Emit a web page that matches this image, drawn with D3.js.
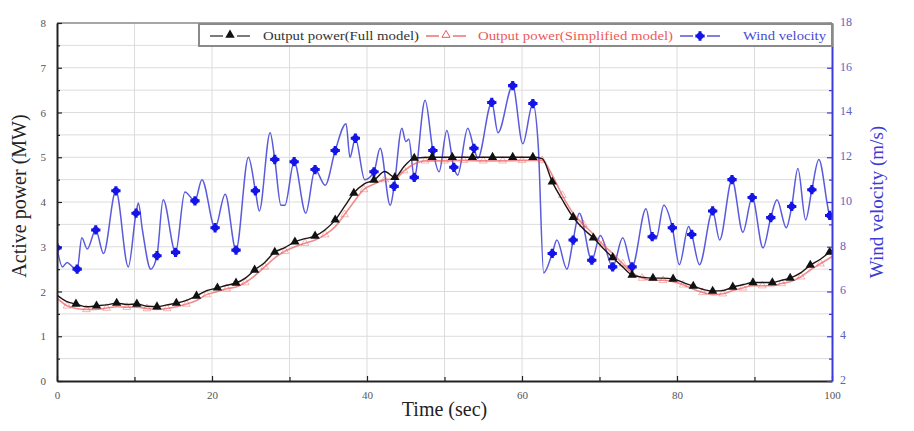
<!DOCTYPE html>
<html>
<head>
<meta charset="utf-8">
<script src="https://cdn.jsdelivr.net/npm/d3@7/dist/d3.min.js"></script>
<style>
  html, body { margin: 0; padding: 0; background: #fff; }
  svg { display: block; }
  text { font-family: "Liberation Serif", "DejaVu Serif", serif; }
</style>
</head>
<body>
<svg id="chart" width="914" height="431"></svg>
<script>
// ---------------- DATA ----------------
// Wind velocity curve (m/s), time in seconds
const windTime = [0, 0.7, 1.3, 2.0, 2.6, 3.2, 3.9, 5.0, 6.0, 7.6, 9.2, 10.2, 10.5, 11.0, 12.1, 12.9, 13.7, 15.3, 16.5, 17.8, 18.7, 20.4, 21.7, 23.1, 24.7, 25.6, 26.1, 27.5, 28.1, 28.9, 29.4, 30.6, 32.1, 33.3, 34.6, 35.9, 37.3, 37.8, 38.5, 39.7, 40.9, 41.7, 43.0, 43.5, 44.5, 45.0, 45.4, 46.1, 47.5, 48.5, 49.3, 50.3, 51.2, 51.7, 53.0, 53.8, 54.3, 56.1, 56.9, 58.8, 60.1, 61.4, 62.1, 62.8, 63.9, 64.5, 65.8, 66.6, 67.4, 69.0, 70.1, 71.7, 73.0, 74.2, 76.0, 76.8, 77.3, 78.3, 79.4, 80.3, 81.5, 81.9, 82.9, 84.6, 85.5, 87.1, 88.5, 89.7, 91.1, 92.1, 92.9, 94.1, 94.8, 95.6, 96.6, 97.4, 98.3, 99.7, 100];
const windValue = [7.95, 7.1, 7.3, 7.1, 7.0, 8.4, 7.9, 8.75, 7.7, 10.5, 7.1, 9.5, 9.95, 8.8, 7.0, 7.6, 10.1, 7.75, 10.45, 10.05, 11.0, 8.85, 10.35, 7.85, 12.0, 10.5, 9.6, 13.1, 11.9, 9.85, 9.85, 11.8, 9.5, 11.45, 10.75, 12.3, 13.5, 12.0, 12.85, 11.0, 11.35, 12.4, 9.85, 10.7, 13.3, 12.7, 12.8, 11.1, 14.55, 12.3, 11.35, 13.2, 11.55, 11.2, 13.3, 12.4, 11.95, 14.45, 13.1, 15.2, 12.6, 14.4, 12.5, 6.83, 7.7, 8.3, 7.0, 8.3, 9.5, 7.4, 8.5, 7.1, 8.4, 7.1, 9.7, 8.45, 8.35, 9.85, 8.85, 7.2, 8.9, 8.55, 7.2, 9.6, 8.3, 11.0, 8.65, 10.2, 7.95, 9.3, 10.1, 8.85, 9.8, 11.5, 9.2, 10.55, 11.9, 9.4, 9.2];
// Wind velocity markers
const windMarkTime = [0, 2.6, 5.0, 7.6, 10.2, 12.9, 15.3, 17.8, 20.4, 23.1, 25.6, 28.1, 30.6, 33.3, 35.9, 38.5, 40.9, 43.5, 46.1, 48.5, 51.2, 53.8, 56.1, 58.8, 61.4, 63.9, 66.6, 69.0, 71.7, 74.2, 76.8, 79.4, 81.9, 84.6, 87.1, 89.7, 92.1, 94.8, 97.4, 99.7];
const windMarkValue = [7.95, 7.0, 8.75, 10.5, 9.5, 7.6, 7.75, 10.05, 8.85, 7.85, 10.5, 11.9, 11.8, 11.45, 12.3, 12.85, 11.35, 10.7, 11.1, 12.3, 11.55, 12.4, 14.45, 15.2, 14.4, 7.7, 8.3, 7.4, 7.1, 7.1, 8.45, 8.85, 8.55, 9.6, 11.0, 10.2, 9.3, 9.8, 10.55, 9.4];

// Output power, full model (MW)
const fullTime = [0, 1.2, 2.45, 3.8, 5.1, 6.4, 7.7, 9.0, 10.3, 11.6, 12.9, 14.2, 15.4, 16.7, 18.0, 19.3, 20.7, 21.9, 23.1, 24.3, 25.5, 26.8, 28.1, 29.4, 30.7, 32.0, 33.3, 34.6, 35.9, 37.1, 38.3, 39.6, 40.9, 42.3, 43.6, 44.8, 46.1, 48.4, 51.0, 53.6, 56.2, 58.8, 61.4, 62.6, 63.9, 65.2, 66.6, 67.9, 69.2, 70.4, 71.7, 73.0, 74.2, 75.5, 76.9, 78.2, 79.5, 80.8, 82.1, 83.3, 84.6, 85.9, 87.2, 88.5, 89.8, 91.0, 92.3, 93.5, 94.6, 96.0, 97.2, 98.5, 99.7, 100];
const fullPower = [1.92, 1.78, 1.72, 1.66, 1.68, 1.70, 1.74, 1.71, 1.72, 1.67, 1.66, 1.70, 1.74, 1.80, 1.90, 2.02, 2.08, 2.14, 2.19, 2.30, 2.48, 2.65, 2.88, 2.98, 3.11, 3.18, 3.24, 3.38, 3.60, 3.90, 4.20, 4.40, 4.49, 4.68, 4.55, 4.80, 4.98, 5.0, 5.0, 5.0, 5.0, 5.0, 5.0, 4.97, 4.45, 4.05, 3.66, 3.40, 3.20, 2.98, 2.76, 2.55, 2.37, 2.32, 2.30, 2.30, 2.28, 2.20, 2.12, 2.05, 2.01, 2.02, 2.10, 2.15, 2.20, 2.20, 2.20, 2.25, 2.30, 2.42, 2.59, 2.72, 2.88, 2.92];
const fullMarkTime = [2.45, 5.1, 7.7, 10.3, 12.9, 15.4, 18.0, 20.7, 23.1, 25.5, 28.1, 30.7, 33.3, 35.9, 38.3, 40.9, 43.6, 46.1, 48.4, 51.0, 53.6, 56.2, 58.8, 61.4, 63.9, 66.6, 69.2, 71.7, 74.2, 76.9, 79.5, 82.1, 84.6, 87.2, 89.8, 92.3, 94.6, 97.2, 99.7];
const fullMarkPower = [1.72, 1.68, 1.74, 1.72, 1.66, 1.74, 1.90, 2.08, 2.19, 2.48, 2.88, 3.11, 3.24, 3.60, 4.20, 4.49, 4.55, 4.98, 5.0, 5.0, 5.0, 5.0, 5.0, 5.0, 4.45, 3.66, 3.20, 2.76, 2.37, 2.30, 2.28, 2.12, 2.01, 2.10, 2.20, 2.20, 2.30, 2.59, 2.88];

// Output power, simplified model (MW)
const simpTime = [0, 1.3, 2.5, 3.8, 5.0, 6.4, 7.7, 9.0, 10.3, 11.6, 12.9, 14.2, 15.4, 16.7, 18.0, 19.3, 20.7, 21.9, 23.1, 24.3, 25.5, 26.8, 28.1, 29.4, 30.7, 32.0, 33.3, 34.6, 35.9, 37.1, 38.3, 39.6, 40.9, 42.3, 43.6, 44.8, 46.1, 47.5, 50.0, 52.5, 55.0, 57.5, 60.0, 62.6, 63.9, 65.2, 66.6, 67.9, 69.2, 70.4, 71.7, 73.0, 74.2, 75.5, 76.9, 78.2, 79.5, 80.8, 82.1, 83.3, 84.6, 85.9, 87.2, 88.5, 89.8, 91.0, 92.3, 93.5, 94.6, 96.0, 97.2, 98.5, 100];
const simpPower = [1.85, 1.68, 1.62, 1.60, 1.60, 1.63, 1.66, 1.65, 1.65, 1.62, 1.60, 1.62, 1.66, 1.72, 1.80, 1.93, 2.00, 2.06, 2.10, 2.20, 2.35, 2.55, 2.75, 2.90, 3.00, 3.08, 3.15, 3.27, 3.45, 3.72, 4.00, 4.28, 4.40, 4.50, 4.52, 4.70, 4.85, 4.92, 4.92, 4.93, 4.92, 4.92, 4.93, 4.93, 4.60, 4.15, 3.75, 3.50, 3.28, 3.05, 2.85, 2.62, 2.42, 2.30, 2.25, 2.25, 2.22, 2.15, 2.05, 1.98, 1.93, 1.95, 2.02, 2.08, 2.13, 2.13, 2.13, 2.18, 2.22, 2.33, 2.48, 2.62, 2.78];
const simpMarkTime = [1.3, 3.8, 6.4, 9.0, 11.6, 14.2, 16.7, 19.3, 21.9, 24.3, 26.8, 29.4, 32.0, 34.6, 37.1, 39.6, 42.3, 44.8, 47.5, 50.0, 52.5, 55.0, 57.5, 60.0, 62.6, 65.2, 67.9, 70.4, 73.0, 75.5, 78.2, 80.8, 83.3, 85.9, 88.5, 91.0, 93.5, 96.0, 98.5];
const simpMarkPower = [1.68, 1.60, 1.63, 1.65, 1.62, 1.62, 1.72, 1.93, 2.06, 2.20, 2.55, 2.90, 3.08, 3.27, 3.72, 4.28, 4.50, 4.70, 4.92, 4.92, 4.93, 4.92, 4.92, 4.93, 4.93, 4.15, 3.50, 3.05, 2.62, 2.30, 2.25, 2.15, 1.98, 1.95, 2.08, 2.13, 2.18, 2.33, 2.62];

// Axis ticks and labels
const xTicks = [0, 20, 40, 60, 80, 100];
const xMinorTicks = [10, 30, 50, 70, 90];
const xGrid = [10, 20, 30, 40, 50, 60, 70, 80, 90];
const pTicks = [0, 1, 2, 3, 4, 5, 6, 7, 8];
const pMinorTicks = [0.5, 1.5, 2.5, 3.5, 4.5, 5.5, 6.5, 7.5];
const wTicks = [2, 4, 6, 8, 10, 12, 14, 16, 18];
const wMinorTicks = [3, 5, 7, 9, 11, 13, 15, 17];

const legendLabels = ["Output power(Full model)", "Output power(Simplified model)", "Wind velocity"];
const xTitle = "Time (sec)";
const yLeftTitle = "Active power (MW)";
const yRightTitle = "Wind velocity (m/s)";

// ---------------- DRAWING ----------------
const svg = d3.select("#chart");
const L = 57, R = 832, T = 23, B = 381;
const BLUE = "#3b3bd6", BLUE_MARK = "#1414e8", RED = "#ec5a5a", BLACK = "#1e1414";

const x = d3.scaleLinear().domain([0, 100]).range([L, R]);
const yP = d3.scaleLinear().domain([0, 8]).range([B, T]);
const yW = d3.scaleLinear().domain([2, 18]).range([B, T]);

// grid
const grid = svg.append("g");
grid.selectAll("line.v").data(xGrid).join("line")
  .attr("x1", d => x(d)).attr("x2", d => x(d)).attr("y1", T).attr("y2", B)
  .attr("stroke", "#dcdcdc").attr("stroke-width", 1);
grid.selectAll("line.h").data(pMinorTicks.concat(pTicks.slice(1, -1))).join("line")
  .attr("x1", L).attr("x2", R).attr("y1", d => yP(d)).attr("y2", d => yP(d))
  .attr("stroke", "#dcdcdc").attr("stroke-width", 1);

// clip
svg.append("clipPath").attr("id", "clip").append("rect")
  .attr("x", L).attr("y", T).attr("width", R - L).attr("height", B - T);
const plot = svg.append("g").attr("clip-path", "url(#clip)");

// wind
const windPts = windTime.map((t, i) => [t, windValue[i]]);
plot.append("path").datum(windPts)
  .attr("d", d3.line().x(d => x(d[0])).y(d => yW(d[1])).curve(d3.curveMonotoneX))
  .attr("fill", "none").attr("stroke", "#5a5adc").attr("stroke-width", 1.5);

function windMarker(g, cx, cy) {
  g.append("path").attr("transform", `translate(${cx},${cy})`)
    .attr("d", d3.symbol().type(d3.symbolCross).size(48)()).attr("fill", BLUE_MARK);
  g.append("circle").attr("cx", cx).attr("cy", cy).attr("r", 3.3).attr("fill", BLUE_MARK);
}
const wm = plot.append("g");
windMarkTime.forEach((t, i) => windMarker(wm, x(t), yW(windMarkValue[i])));

// simplified (red)
const simpPts = simpTime.map((t, i) => [t, simpPower[i]]);
plot.append("path").datum(simpPts)
  .attr("d", d3.line().x(d => x(d[0])).y(d => yP(d[1])).curve(d3.curveMonotoneX))
  .attr("fill", "none").attr("stroke", RED).attr("stroke-width", 1.6).attr("stroke-opacity", 0.7);
plot.selectAll("path.sm").data(simpMarkTime).join("path")
  .attr("transform", (t, i) => `translate(${x(t)},${yP(simpMarkPower[i])})`)
  .attr("d", d3.symbol().type(d3.symbolTriangle).size(26)())
  .attr("fill", "none").attr("stroke", RED).attr("stroke-width", 0.8).attr("stroke-opacity", 0.55);

// full (black)
const fullPts = fullTime.map((t, i) => [t, fullPower[i]]);
plot.append("path").datum(fullPts)
  .attr("d", d3.line().x(d => x(d[0])).y(d => yP(d[1])).curve(d3.curveMonotoneX))
  .attr("fill", "none").attr("stroke", BLACK).attr("stroke-width", 1.4);
plot.selectAll("path.fm").data(fullMarkTime).join("path")
  .attr("transform", (t, i) => `translate(${x(t)},${yP(fullMarkPower[i])})`)
  .attr("d", d3.symbol().type(d3.symbolTriangle).size(38)())
  .attr("fill", "#111");

// top frame line
svg.append("line").attr("x1", L).attr("x2", R).attr("y1", T).attr("y2", T)
  .attr("stroke", "#888").attr("stroke-width", 1.5);

// axes
function styleAxis(g, color, fontSize, family) {
  g.select(".domain").attr("stroke", color).attr("stroke-width", 2);
  g.selectAll(".tick line").attr("stroke", color).attr("stroke-width", 1.2);
  g.selectAll(".tick text").attr("fill", color).attr("font-size", fontSize)
    .attr("font-family", family);
}
const serif = "Liberation Serif";
const sans = "Liberation Sans";

// bottom
const gx = svg.append("g").attr("transform", `translate(0,${B})`)
  .call(d3.axisBottom(x).tickValues(xTicks).tickSizeInner(-5).tickSizeOuter(0).tickPadding(10));
styleAxis(gx, "#222", 11, serif);
gx.selectAll(".tick text").attr("fill", "#555");
const gxm = svg.append("g").attr("transform", `translate(0,${B})`)
  .call(d3.axisBottom(x).tickValues(xMinorTicks).tickSizeInner(-4).tickSizeOuter(0).tickFormat(""));
gxm.select(".domain").remove();
gxm.selectAll(".tick line").attr("stroke", "#222").attr("stroke-width", 1.2);

// left
const gy = svg.append("g").attr("transform", `translate(${L},0)`)
  .call(d3.axisLeft(yP).tickValues(pTicks).tickSizeInner(-5).tickSizeOuter(0).tickPadding(11));
styleAxis(gy, "#222", 11, serif);
gy.selectAll(".tick text").attr("fill", "#555");
const gym = svg.append("g").attr("transform", `translate(${L},0)`)
  .call(d3.axisLeft(yP).tickValues(pMinorTicks).tickSizeInner(-3).tickSizeOuter(0).tickFormat(""));
gym.select(".domain").remove();
gym.selectAll(".tick line").attr("stroke", "#222").attr("stroke-width", 1.2);

// right
const gr = svg.append("g").attr("transform", `translate(${R},0)`)
  .call(d3.axisRight(yW).tickValues(wTicks).tickSizeInner(-5).tickSizeOuter(0).tickPadding(8));
styleAxis(gr, BLUE, 12, sans);
gr.selectAll(".tick text").attr("fill", "#6060c8").attr("dy", "0.2em");
const grm = svg.append("g").attr("transform", `translate(${R},0)`)
  .call(d3.axisRight(yW).tickValues(wMinorTicks).tickSizeInner(-3).tickSizeOuter(0).tickFormat(""));
grm.select(".domain").remove();
grm.selectAll(".tick line").attr("stroke", BLUE).attr("stroke-width", 1.2);

// titles
svg.append("text").attr("x", (L + R) / 2).attr("y", 416).attr("text-anchor", "middle")
  .attr("font-size", 20).attr("fill", "#222").text(xTitle);
svg.append("text").attr("transform", `translate(26,${(T + B) / 2 - 6}) rotate(-90)`)
  .attr("text-anchor", "middle").attr("font-size", 20).attr("fill", "#222").text(yLeftTitle);
svg.append("text").attr("transform", `translate(883,${(T + B) / 2}) rotate(-90)`)
  .attr("text-anchor", "middle").attr("font-size", 19).attr("fill", BLUE).text(yRightTitle);

// legend
const lg = svg.append("g");
lg.append("rect").attr("x", 199).attr("y", 24).attr("width", R - 199).attr("height", 22)
  .attr("fill", "#fff").attr("stroke", "#8a8a8a").attr("stroke-width", 2);
const legendItems = [
  { x0: 210, tx: 263, color: "#333", text: "#333", tw: 156 },
  { x0: 426, tx: 478, color: RED, text: RED, tw: 195 },
  { x0: 680, tx: 743, color: BLUE, text: "#4a4ad0", tw: 83 }
];
legendItems.forEach((it, i) => {
  const ly = 36;
  lg.append("line").attr("x1", it.x0).attr("x2", it.x0 + 13).attr("y1", ly).attr("y2", ly)
    .attr("stroke", it.color).attr("stroke-width", 1.3);
  lg.append("line").attr("x1", it.x0 + 27).attr("x2", it.x0 + 40).attr("y1", ly).attr("y2", ly)
    .attr("stroke", it.color).attr("stroke-width", 1.3);
  const cx = it.x0 + 20;
  if (i === 0) {
    lg.append("path").attr("transform", `translate(${cx},${ly - 1})`)
      .attr("d", d3.symbol().type(d3.symbolTriangle).size(38)()).attr("fill", "#111");
  } else if (i === 1) {
    lg.append("path").attr("transform", `translate(${cx},${ly - 1})`)
      .attr("d", d3.symbol().type(d3.symbolTriangle).size(28)())
      .attr("fill", "none").attr("stroke", RED).attr("stroke-width", 1);
  } else {
    windMarker(lg, cx, ly);
  }
  lg.append("text").attr("x", it.tx).attr("y", ly + 4).attr("font-size", 13)
    .attr("fill", it.text).attr("textLength", it.tw).attr("lengthAdjust", "spacingAndGlyphs")
    .text(legendLabels[i]);
});
</script>
</body>
</html>
